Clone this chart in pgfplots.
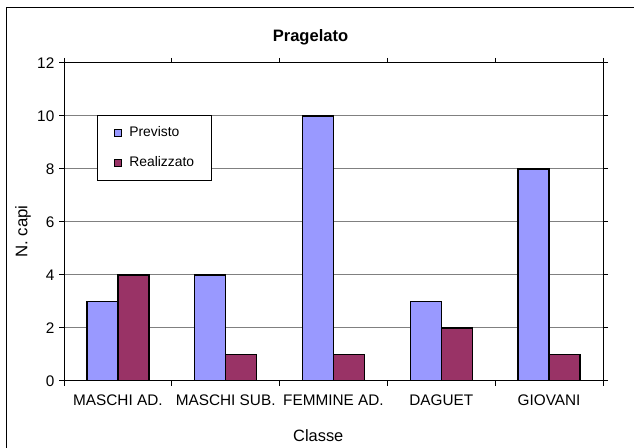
\documentclass[border=0pt]{standalone}
\usepackage{pgfplots}
\pgfplotsset{compat=1.18}
\usepackage{fontspec}
\setmainfont{Liberation Sans}
\definecolor{prev}{RGB}{153,153,255}
\definecolor{real}{RGB}{153,51,102}
\definecolor{gridc}{RGB}{128,128,128}
\begin{document}
\begin{tikzpicture}[x=0.75pt,y=0.75pt]
\path[use as bounding box] (-64,-67) rectangle (570,381);
\draw[black, line width=0.75pt] (-57,-67) -- (-57,373) -- (570,373);
\begin{axis}[
  at={(0,0)}, anchor=south west,
  scale only axis, width=404.25pt, height=238.5pt,
  xmin=-0.5, xmax=4.5, ymin=0, ymax=12,
  ytick={0,2,...,12},
  xtick={0,...,4},
  xticklabels={MASCHI AD., MASCHI SUB., FEMMINE AD., DAGUET, GIOVANI},
  minor xtick={-0.5,0.5,...,4.5},
  ymajorgrids, grid style={gridc, line width=0.75pt},
  tick align=outside, major tick length=3.75pt, minor tick length=3.75pt,
  xtick style={draw=none},
  minor x tick style={draw=black, line width=0.75pt},
  ytick style={black, line width=0.75pt},
  axis line style={black, line width=0.75pt},
  ticklabel style={font=\fontsize{11.5}{13}\selectfont},
  xticklabel style={yshift=-3pt},
  /pgf/number format/assume math mode=true,
  ybar=0pt, bar width=23.25pt,
  legend style={at={(rel axis cs:0.0603,0.8365)}, anchor=north west, draw=black, line width=0.75pt,
    font=\fontsize{10.4}{12}\selectfont, inner xsep=12.75pt, inner ysep=8.6pt, row sep=13.4pt,
    nodes={inner sep=0pt},
    /tikz/every odd column/.append style={column sep=5.5pt}},
  legend cell align=left,
  legend image code/.code={\draw[#1, draw=black, line width=0.75pt] (0pt,-2.6pt) rectangle (5.25pt,2.6pt);},
]
\addplot[fill=prev, draw=black, line width=1.1pt] coordinates {(0,3) (1,4) (2,10) (3,3) (4,8)};
\addplot[fill=real, draw=black, line width=1.1pt] coordinates {(0,4) (1,1) (2,1) (3,2) (4,1)};
\legend{Previsto, Realizzato}
\end{axis}
\node[font=\bfseries\fontsize{12.4}{14}\selectfont] at (246.5,343.7) {Pragelato};
\node[font=\fontsize{12.6}{14}\selectfont, rotate=90] at (-41,149.3) {N. capi};
\node[font=\fontsize{12.3}{14}\selectfont] at (254.3,-54.5) {Classe};
\end{tikzpicture}
\end{document}
